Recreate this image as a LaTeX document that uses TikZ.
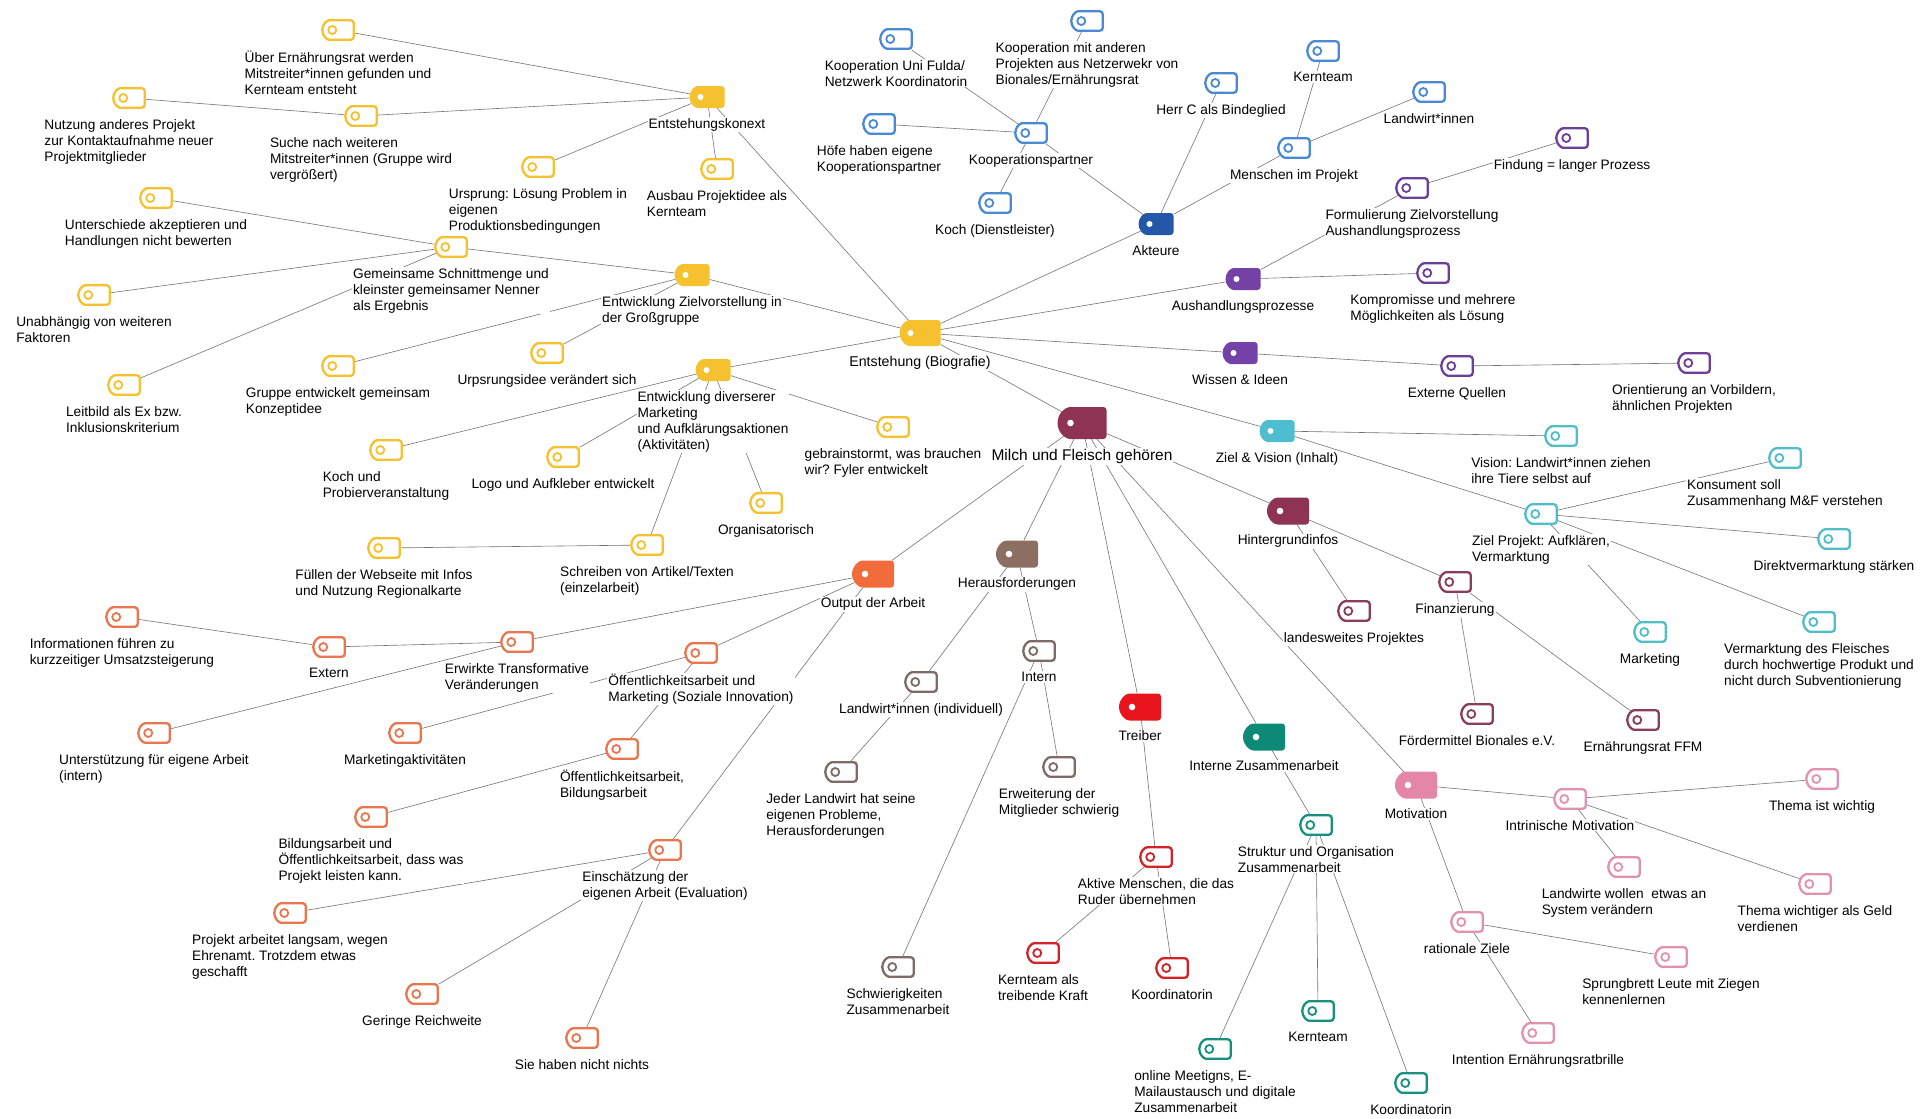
\documentclass[tikz,border=0pt]{standalone}
\usepackage{fontspec}
\setmainfont{Liberation Sans}
\usepackage{tikz}
\usetikzlibrary{shapes.misc,positioning,backgrounds}

\definecolor{ygold}{HTML}{F5C12E}
\definecolor{kblue}{HTML}{2457A8}
\definecolor{kline}{HTML}{4A8AD4}
\definecolor{apurple}{HTML}{7442A6}
\definecolor{aline}{HTML}{6E3F98}
\definecolor{zcyan}{HTML}{4DBDCF}
\definecolor{zline}{HTML}{50BEC6}
\definecolor{mwine}{HTML}{8E3354}
\definecolor{mline}{HTML}{8B3C5C}
\definecolor{oorange}{HTML}{F26B3B}
\definecolor{oline}{HTML}{E9764F}
\definecolor{hbrown}{HTML}{8C6E62}
\definecolor{hline}{HTML}{7E6B66}
\definecolor{tred}{HTML}{E8141E}
\definecolor{tline}{HTML}{D2232B}
\definecolor{iteal}{HTML}{0C8A77}
\definecolor{iline}{HTML}{18907F}
\definecolor{ppink}{HTML}{E386A7}
\definecolor{pline}{HTML}{E292B0}

% tag and its label under it
\newcommand{\mapitem}[4]{%
	\node[#3] (#1) at (#2) {};
	\node[codetext, below=9pt of #1] (#1-t) {#4};}

\begin{document}
\begin{tikzpicture}[x=1pt, y=-1pt,
	tagbase/.style={rounded rectangle, rounded rectangle right arc=none, rounded corners=3pt, inner sep=0pt},
	codetag/.style={tagbase, minimum width=31.5pt, minimum height=19.5pt, draw=#1, line width=2.3pt, fill=white,
		path picture={\draw[#1, line width=1.8pt] ([xshift=10pt]path picture bounding box.west) circle (4pt);}},
	cattag/.style={tagbase, minimum width=35pt, minimum height=22pt, fill=#1,
		path picture={\fill[white] ([xshift=11pt]path picture bounding box.west) circle (3pt);}},
	subtag/.style={tagbase, minimum width=42pt, minimum height=27pt, fill=#1,
		path picture={\fill[white] ([xshift=13pt]path picture bounding box.west) circle (3.3pt);}},
	codetext/.style={font=\fontsize{13.7}{16}\selectfont\frenchspacing, align=left, fill=white, inner sep=1pt},
	link/.style={draw=black!55, line width=0.6pt}]
	
	\useasboundingbox (0,0) rectangle (1931,1119);
	
	% CENTRE
	
	\mapitem{ent}{920,333}{cattag=ygold, minimum width=41pt, minimum height=26pt}{\fontsize{14.2}{16}\selectfont Entstehung (Biografie)}
	\mapitem{milch}{1082,423}{subtag=mwine, minimum width=49pt, minimum height=32pt}{\fontsize{15.5}{18}\selectfont Milch und Fleisch gehören}
	
	% ENTSTEHUNG
	
	\mapitem{konext}{707,97}{cattag=ygold}{Entstehungskonext}
	\mapitem{zielgr}{692,275}{cattag=ygold}{Entwicklung Zielvorstellung in\\der Großgruppe}
	\mapitem{divers}{713,370}{cattag=ygold}{Entwicklung diverserer\\Marketing\\und Aufklärungsaktionen\\(Aktivitäten)}
	
	\mapitem{uber}{338,30}{codetag=ygold}{Über Ernährungsrat werden\\Mitstreiter*innen gefunden und\\Kernteam entsteht}
	\mapitem{nutzung}{129,98}{codetag=ygold}{Nutzung anderes Projekt\\zur Kontaktaufnahme neuer\\Projektmitglieder}
	\mapitem{suche}{361,116}{codetag=ygold}{Suche nach weiteren\\Mitstreiter*innen (Gruppe wird\\vergrößert)}
	\mapitem{ursprung}{538,167}{codetag=ygold}{Ursprung: Lösung Problem in\\eigenen\\Produktionsbedingungen}
	\mapitem{ausbau}{717,169}{codetag=ygold}{Ausbau Projektidee als\\Kernteam}
	\mapitem{unterschiede}{156,198}{codetag=ygold}{Unterschiede akzeptieren und\\Handlungen nicht bewerten}
	\mapitem{schnitt}{451,247}{codetag=ygold}{Gemeinsame Schnittmenge und\\kleinster gemeinsamer Nenner\\als Ergebnis}
	\mapitem{unabh}{94,295}{codetag=ygold}{Unabhängig von weiteren\\Faktoren}
	\mapitem{leitbild}{124,385}{codetag=ygold}{Leitbild als Ex bzw.\\Inklusionskriterium}
	\mapitem{gruppe}{338,366}{codetag=ygold}{Gruppe entwickelt gemeinsam\\Konzeptidee}
	\mapitem{urpsrung}{547,353}{codetag=ygold}{Urpsrungsidee verändert sich}
	\mapitem{kochprob}{386,450}{codetag=ygold}{Koch und\\Probierveranstaltung}
	\mapitem{logo}{563,457}{codetag=ygold}{Logo und Aufkleber entwickelt}
	\mapitem{brain}{893,427}{codetag=ygold}{gebrainstormt, was brauchen\\wir? Fyler entwickelt}
	\mapitem{orga}{766,503}{codetag=ygold}{Organisatorisch}
	\mapitem{schreiben}{647,545}{codetag=ygold}{Schreiben von Artikel/Texten\\(einzelarbeit)}
	\mapitem{fuellen}{384,548}{codetag=ygold}{Füllen der Webseite mit Infos\\und Nutzung Regionalkarte}
	
	% AKTEURE
	
	\mapitem{akteure}{1156,224}{cattag=kblue}{Akteure}
	\mapitem{koop}{1031,133}{codetag=kline}{Kooperationspartner}
	\mapitem{unifulda}{896,39}{codetag=kline}{Kooperation Uni Fulda/\\Netzwerk Koordinatorin}
	\mapitem{koopand}{1087,21}{codetag=kline}{Kooperation mit anderen\\Projekten aus Netzerwekr von\\Bionales/Ernährungsrat}
	\mapitem{hoefe}{879,124}{codetag=kline}{Höfe haben eigene\\Kooperationspartner}
	\mapitem{kochdl}{995,203}{codetag=kline}{Koch (Dienstleister)}
	\mapitem{herrc}{1221,83}{codetag=kline}{Herr C als Bindeglied}
	\mapitem{menschen}{1294,148}{codetag=kline}{Menschen im Projekt}
	\mapitem{kernteamA}{1323,51}{codetag=kline}{Kernteam}
	\mapitem{landwirtA}{1429,92}{codetag=kline}{Landwirt*innen}
	
	% AUSHANDLUNG, WISSEN
	
	\mapitem{aush}{1243,279}{cattag=apurple}{Aushandlungsprozesse}
	\mapitem{formul}{1412,188}{codetag=aline}{Formulierung Zielvorstellung\\Aushandlungsprozess}
	\mapitem{findung}{1572,138}{codetag=aline}{Findung = langer Prozess}
	\mapitem{kompro}{1433,273}{codetag=aline}{Kompromisse und mehrere\\Möglichkeiten als Lösung}
	\mapitem{wissen}{1240,353}{cattag=apurple}{Wissen \& Ideen}
	\mapitem{externe}{1457,366}{codetag=aline}{Externe Quellen}
	\mapitem{orient}{1694,363}{codetag=aline}{Orientierung an Vorbildern,\\ähnlichen Projekten}
	
	% ZIEL
	
	\mapitem{zielvis}{1277,431}{cattag=zcyan}{Ziel \& Vision (Inhalt)}
	\mapitem{vision}{1561,436}{codetag=zline}{Vision: Landwirt*innen ziehen\\ihre Tiere selbst auf}
	\mapitem{zielproj}{1541,514}{codetag=zline}{Ziel Projekt: Aufklären,\\Vermarktung}
	\mapitem{konsument}{1785,458}{codetag=zline}{Konsument soll\\Zusammenhang M\&F verstehen}
	\mapitem{direkt}{1834,539}{codetag=zline}{Direktvermarktung stärken}
	\mapitem{marketingZ}{1650,632}{codetag=zline}{Marketing}
	\mapitem{vermarkt}{1819,622}{codetag=zline}{Vermarktung des Fleisches\\durch hochwertige Produkt und\\nicht durch Subventionierung}
	
	% HINTERGRUND
	
	\mapitem{hinter}{1288,511}{subtag=mwine}{Hintergrundinfos}
	\mapitem{landesw}{1354,611}{codetag=mline}{landesweites Projektes}
	\mapitem{finanz}{1455,582}{codetag=mline}{Finanzierung}
	\mapitem{foerder}{1477,714}{codetag=mline}{Fördermittel Bionales e.V.}
	\mapitem{ernrat}{1643,720}{codetag=mline}{Ernährungsrat FFM}
	
	% OUTPUT
	
	\mapitem{output}{873,574}{subtag=oorange}{Output der Arbeit}
	\mapitem{info}{122,617}{codetag=oline}{Informationen führen zu\\kurzzeitiger Umsatzsteigerung}
	\mapitem{extern}{329,647}{codetag=oline}{Extern}
	\mapitem{erwirkt}{517,642}{codetag=oline}{Erwirkte Transformative\\Veränderungen}
	\mapitem{unterst}{154,733}{codetag=oline}{Unterstützung für eigene Arbeit\\(intern)}
	\mapitem{marketakt}{405,733}{codetag=oline}{Marketingaktivitäten}
	\mapitem{oeffmark}{701,653}{codetag=oline}{Öffentlichkeitsarbeit und\\Marketing (Soziale Innovation)}
	\mapitem{oeffbild}{622,749}{codetag=oline}{Öffentlichkeitsarbeit,\\Bildungsarbeit}
	\mapitem{bildung}{371,817}{codetag=oline}{Bildungsarbeit und\\Öffentlichkeitsarbeit, dass was\\Projekt leisten kann.}
	\mapitem{einsch}{665,850}{codetag=oline}{Einschätzung der\\eigenen Arbeit (Evaluation)}
	\mapitem{langsam}{290,913}{codetag=oline}{Projekt arbeitet langsam, wegen\\Ehrenamt. Trotzdem etwas\\geschafft}
	\mapitem{gering}{422,994}{codetag=oline}{Geringe Reichweite}
	\mapitem{nichts}{582,1038}{codetag=oline}{Sie haben nicht nichts}
	
	% HERAUSFORDERUNGEN
	
	\mapitem{heraus}{1017,554}{subtag=hbrown}{Herausforderungen}
	\mapitem{intern}{1039,651}{codetag=hline}{Intern}
	\mapitem{landind}{921,682}{codetag=hline}{Landwirt*innen (individuell)}
	\mapitem{jeder}{841,772}{codetag=hline}{Jeder Landwirt hat seine\\eigenen Probleme,\\Herausforderungen}
	\mapitem{erweit}{1059,767}{codetag=hline}{Erweiterung der\\Mitglieder schwierig}
	\mapitem{schwier}{898,967}{codetag=hline}{Schwierigkeiten\\Zusammenarbeit}
	
	% TREIBER
	
	\mapitem{treiber}{1140,707}{subtag=tred}{Treiber}
	\mapitem{aktive}{1156,857}{codetag=tline}{Aktive Menschen, die das\\Ruder übernehmen}
	\mapitem{kernkraft}{1043,953}{codetag=tline}{Kernteam als\\treibende Kraft}
	\mapitem{koordR}{1172,968}{codetag=tline}{Koordinatorin}
	
	% ZUSAMMENARBEIT
	
	\mapitem{internez}{1264,737}{subtag=iteal}{Interne Zusammenarbeit}
	\mapitem{struktur}{1316,825}{codetag=iline}{Struktur und Organisation\\Zusammenarbeit}
	\mapitem{online}{1215,1049}{codetag=iline}{online Meetigns, E-\\Mailaustausch und digitale\\Zusammenarbeit}
	\mapitem{kernT}{1318,1011}{codetag=iline}{Kernteam}
	\mapitem{koordT}{1411,1083}{codetag=iline}{Koordinatorin}
	
	% MOTIVATION
	
	\mapitem{motiv}{1416,785}{subtag=ppink}{Motivation}
	\mapitem{intrin}{1570,799}{codetag=pline}{Intrinische Motivation}
	\mapitem{thema}{1822,779}{codetag=pline}{Thema ist wichtig}
	\mapitem{landwoll}{1624,867}{codetag=pline}{Landwirte wollen\ \ etwas an\\System verändern}
	\mapitem{geld}{1815,884}{codetag=pline}{Thema wichtiger als Geld\\verdienen}
	\mapitem{rational}{1467,922}{codetag=pline}{rationale Ziele}
	\mapitem{sprung}{1671,957}{codetag=pline}{Sprungbrett Leute mit Ziegen\\kennenlernen}
	\mapitem{intention}{1538,1033}{codetag=pline}{Intention Ernährungsratbrille}
	
	% LINKS
	
	\begin{scope}[on background layer]
		\draw[link] (ent) -- (konext) (ent) -- (zielgr) (ent) -- (divers) (ent) -- (akteure)
			(ent) -- (aush) (ent) -- (wissen) (ent) -- (zielvis) (ent) -- (milch);
		\draw[link] (konext) -- (uber) (konext) -- (suche) (konext) -- (ursprung) (konext) -- (ausbau);
		\draw[link] (suche) -- (nutzung);
		\draw[link] (zielgr) -- (schnitt) (zielgr) -- (gruppe) (zielgr) -- (urpsrung);
		\draw[link] (schnitt) -- (unterschiede) (schnitt) -- (unabh) (schnitt) -- (leitbild);
		\draw[link] (divers) -- (kochprob) (divers) -- (logo) (divers) -- (brain) (divers) -- (orga) (divers) -- (schreiben);
		\draw[link] (schreiben) -- (fuellen);
		\draw[link] (akteure) -- (koop) (akteure) -- (herrc) (akteure) -- (menschen);
		\draw[link] (koop) -- (unifulda) (koop) -- (koopand) (koop) -- (hoefe) (koop) -- (kochdl);
		\draw[link] (menschen) -- (kernteamA) (menschen) -- (landwirtA);
		\draw[link] (aush) -- (formul) (aush) -- (kompro) (formul) -- (findung);
		\draw[link] (wissen) -- (externe) (externe) -- (orient);
		\draw[link] (zielvis) -- (vision) (zielvis) -- (zielproj);
		\draw[link] (zielproj) -- (konsument) (zielproj) -- (direkt) (zielproj) -- (marketingZ) (zielproj) -- (vermarkt);
		\draw[link] (milch) -- (output) (milch) -- (heraus) (milch) -- (treiber) (milch) -- (internez)
			(milch) -- (motiv) (milch) -- (hinter);
		\draw[link] (hinter) -- (landesw) (hinter) -- (finanz) (finanz) -- (foerder) (finanz) -- (ernrat);
		\draw[link] (output) -- (erwirkt) (output) -- (oeffmark) (output) -- (einsch);
		\draw[link] (erwirkt) -- (extern) (erwirkt) -- (unterst) (extern) -- (info);
		\draw[link] (oeffmark) -- (marketakt) (oeffmark) -- (oeffbild) (oeffbild) -- (bildung);
		\draw[link] (einsch) -- (langsam) (einsch) -- (gering) (einsch) -- (nichts);
		\draw[link] (heraus) -- (intern) (heraus) -- (landind) (landind) -- (jeder);
		\draw[link] (intern) -- (schwier) (intern) -- (erweit);
		\draw[link] (treiber) -- (aktive) (aktive) -- (kernkraft) (aktive) -- (koordR);
		\draw[link] (internez) -- (struktur) (struktur) -- (online) (struktur) -- (kernT) (struktur) -- (koordT);
		\draw[link] (motiv) -- (intrin) (motiv) -- (rational);
		\draw[link] (intrin) -- (thema) (intrin) -- (landwoll) (intrin) -- (geld);
		\draw[link] (rational) -- (sprung) (rational) -- (intention);
	\end{scope}
	
\end{tikzpicture}
\end{document}
